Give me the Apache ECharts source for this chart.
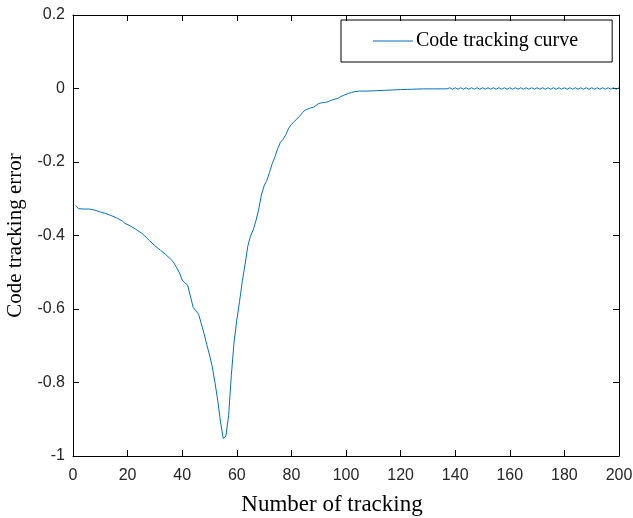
<!DOCTYPE html>
<html>
<head>
<meta charset="utf-8">
<script src="https://cdn.jsdelivr.net/npm/echarts@6/dist/echarts.min.js"></script>
<style>
  html, body { margin: 0; padding: 0; background: #fff; }
  #chart { width: 633px; height: 518px; }
</style>
</head>
<body>
<div id="chart"></div>
<script>
// 数据：跟踪次数 / 码跟踪误差
const trackNum = [
  1, 2, 4, 6, 8, 10, 12, 14, 16, 18, 19, 21, 23, 25, 26, 28, 30, 32, 34, 36,
  37, 38, 39, 40, 41, 42, 43, 44, 45, 46, 47, 48, 49, 50, 51, 52, 53, 54, 55, 56,
  57, 58, 59, 60, 61, 62, 63, 64, 65, 66, 67, 68, 69, 70, 71, 72, 73, 74, 75, 76,
  77, 78, 79, 80, 81, 82, 83, 84, 85, 86, 87, 88, 89, 90, 91, 92, 93, 94, 95, 96,
  97, 98, 99, 100, 101, 102, 103, 104, 105, 108, 111, 114, 117, 120, 124, 128, 132, 137,
  138, 139, 140, 141, 142, 143, 144, 145, 146, 147, 148, 149, 150, 151, 152, 153, 154, 155,
  156, 157, 158, 159, 160, 161, 162, 163, 164, 165, 166, 167, 168, 169, 170, 171, 172, 173,
  174, 175, 176, 177, 178, 179, 180, 181, 182, 183, 184, 185, 186, 187, 188, 189, 190, 191,
  192, 193, 194, 195, 196, 197, 198, 199, 200
];
const trackErr = [
  -0.318, -0.327, -0.328, -0.328, -0.331, -0.336, -0.340, -0.346, -0.352, -0.360,
  -0.367, -0.374, -0.383, -0.393, -0.399, -0.414, -0.428, -0.440, -0.452, -0.466,
  -0.475, -0.488, -0.502, -0.521, -0.529, -0.535, -0.565, -0.595, -0.605, -0.614,
  -0.640, -0.667, -0.697, -0.725, -0.757, -0.800, -0.848, -0.905, -0.952, -0.946,
  -0.890, -0.780, -0.690, -0.630, -0.580, -0.525, -0.480, -0.430, -0.402, -0.385,
  -0.360, -0.330, -0.290, -0.265, -0.250, -0.228, -0.204, -0.185, -0.163, -0.146,
  -0.138, -0.125, -0.108, -0.098, -0.090, -0.083, -0.075, -0.066, -0.059, -0.056,
  -0.053, -0.051, -0.046, -0.041, -0.039, -0.038, -0.037, -0.034, -0.031, -0.029,
  -0.027, -0.022, -0.019, -0.016, -0.013, -0.011, -0.009, -0.008, -0.007, -0.007,
  -0.006, -0.005, -0.004, -0.003, -0.002, -0.001, -0.001, -0.001,
  0.002, -0.002, 0.002, -0.002, 0.002, -0.002, 0.002, -0.002, 0.002, -0.002,
  0.002, -0.002, 0.002, -0.002, 0.002, -0.002, 0.002, -0.002, 0.002, -0.002,
  0.002, -0.002, 0.002, -0.002, 0.002, -0.002, 0.002, -0.002, 0.002, -0.002,
  0.002, -0.002, 0.002, -0.002, 0.002, -0.002, 0.002, -0.002, 0.002, -0.002,
  0.002, -0.002, 0.002, -0.002, 0.002, -0.002, 0.002, -0.002, 0.002, -0.002,
  0.002, -0.002, 0.002, -0.002, 0.002, -0.002, 0.002, -0.002, 0.002, -0.002,
  0.002, -0.002, 0.002
];
const seriesName = 'Code tracking curve';

const LINE_BLUE = '#0072BD';
const TEXT = '#262626';
const SANS = 'Liberation Sans, Arial, sans-serif';
const SERIF = 'Liberation Serif, Times New Roman, serif';

function boxAxis(extra) {
  return Object.assign({
    type: 'value',
    axisLine: { show: true, onZero: false, lineStyle: { color: '#000', width: 1 } },
    axisTick: { show: true, inside: true, length: 6, lineStyle: { color: '#000' } },
    splitLine: { show: false },
    axisLabel: { color: TEXT, fontFamily: SANS, fontSize: 16 },
  }, extra);
}

const chart = echarts.init(document.getElementById('chart'), null, { renderer: 'canvas' });
chart.setOption({
  animation: false,
  grid: { left: 73, right: 14, top: 15, bottom: 62, containLabel: false, outerBoundsMode: 'none' },
  legend: {
    data: [seriesName], left: 341, top: 20,
    icon: 'path://M0,0 L40,0 L40,1 L0,1 Z', itemWidth: 40, itemHeight: 1, itemGap: 3,
    padding: [11, 34, 11, 32], borderColor: '#000', borderWidth: 1,
    textStyle: { color: '#000', fontFamily: SERIF, fontSize: 20, padding: [0, 0, 0, -2] },
  },
  xAxis: [
    boxAxis({ min: 0, max: 200, interval: 20, position: 'bottom',
      name: 'Number of tracking', nameLocation: 'middle', nameGap: 37, nameMoveOverlap: false,
      nameTextStyle: { color: '#000', fontFamily: SERIF, fontSize: 23, padding: [0, 28, 0, 0] },
      axisLabel: { color: TEXT, fontFamily: SANS, fontSize: 16, margin: 12 } }),
    boxAxis({ min: 0, max: 200, interval: 20, position: 'top', axisLabel: { show: false } }),
  ],
  yAxis: [
    boxAxis({ min: -1, max: 0.2, interval: 0.2, position: 'left',
      name: 'Code tracking error', nameLocation: 'middle', nameGap: 47, nameMoveOverlap: false,
      nameTextStyle: { color: '#000', fontFamily: SERIF, fontSize: 21 },
      axisLabel: { color: TEXT, fontFamily: SANS, fontSize: 16, margin: 8,
        formatter: (v) => String(Math.round(v * 10) / 10) } }),
    boxAxis({ min: -1, max: 0.2, interval: 0.2, position: 'right', axisLabel: { show: false } }),
  ],
  series: [{
    name: seriesName, type: 'line', showSymbol: false, symbol: 'none',
    data: trackNum.map((x, i) => [x, trackErr[i]]),
    lineStyle: { color: LINE_BLUE, width: 1 }, itemStyle: { color: LINE_BLUE },
  }],
});
</script>
</body>
</html>
